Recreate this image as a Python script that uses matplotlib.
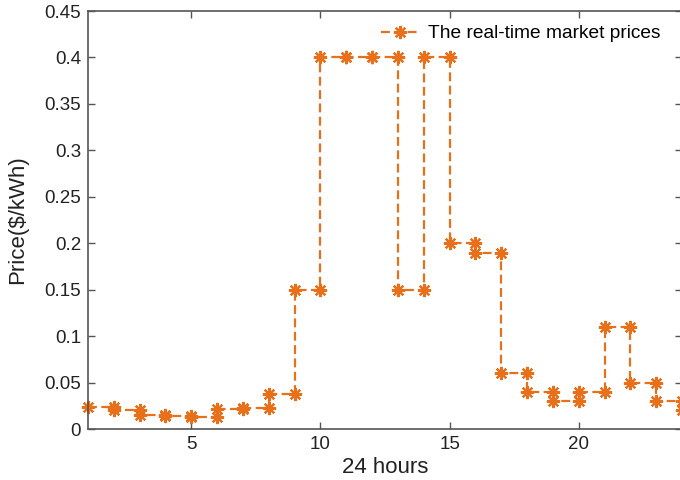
import numpy as np
import matplotlib
matplotlib.use("Agg")
import matplotlib.pyplot as plt
from matplotlib.ticker import FuncFormatter

# hourly real-time prices ($/kWh)
hours = np.arange(1, 25)
prices = [0.024, 0.020, 0.015, 0.0135, 0.013, 0.021, 0.023, 0.038,
          0.15, 0.40, 0.40, 0.40, 0.15, 0.40, 0.20, 0.19,
          0.06, 0.04, 0.03, 0.04, 0.11, 0.05, 0.03, 0.02]

yticks = [0, 0.05, 0.1, 0.15, 0.2, 0.25, 0.3, 0.35, 0.4, 0.45]
xticks = [5, 10, 15, 20]

color = '#e8701a'
axis_color = '#555555'

plt.rcParams['font.family'] = ['Liberation Sans', 'DejaVu Sans']

# MATLAB-style stairs: marker at every corner of the steps
sx = [hours[0]]
sy = [prices[0]]
for i in range(1, len(hours)):
    sx += [hours[i], hours[i]]
    sy += [prices[i - 1], prices[i]]

fig = plt.figure(figsize=(6.8, 4.8), dpi=100)
ax = fig.add_axes([88 / 680, 51 / 480, 594 / 680, 418 / 480])

ax.plot(sx, sy, linestyle=(0, (4, 2)), linewidth=1.6, color=color,
        marker=(8, 2, 0), markersize=9.5, markeredgewidth=1.6,
        markeredgecolor=color, clip_on=False,
        label='The real-time market prices')

ax.set_xlim(1, 24)
ax.set_ylim(0, 0.45)
ax.set_xticks(xticks)
ax.set_yticks(yticks)
ax.yaxis.set_major_formatter(FuncFormatter(lambda v, p: f'{v:g}'))

ax.tick_params(direction='in', length=5, width=1, color=axis_color,
               labelsize=13.5, labelcolor='#222222', top=True, right=True, pad=5)
for s in ax.spines.values():
    s.set_color(axis_color)
    s.set_linewidth(1.2)

ax.set_xlabel('24 hours', fontsize=16, color='#222222', labelpad=3)
ax.set_ylabel('Price($/kWh)', fontsize=16, color='#222222', labelpad=12)

ax.legend(loc='upper left', bbox_to_anchor=(381 / 680, 1 - 25 / 480),
          bbox_transform=fig.transFigure, frameon=False, fontsize=13.8,
          borderpad=0, borderaxespad=0, handlelength=2.0, handletextpad=0.45)

fig.savefig('out.png', dpi=100)
